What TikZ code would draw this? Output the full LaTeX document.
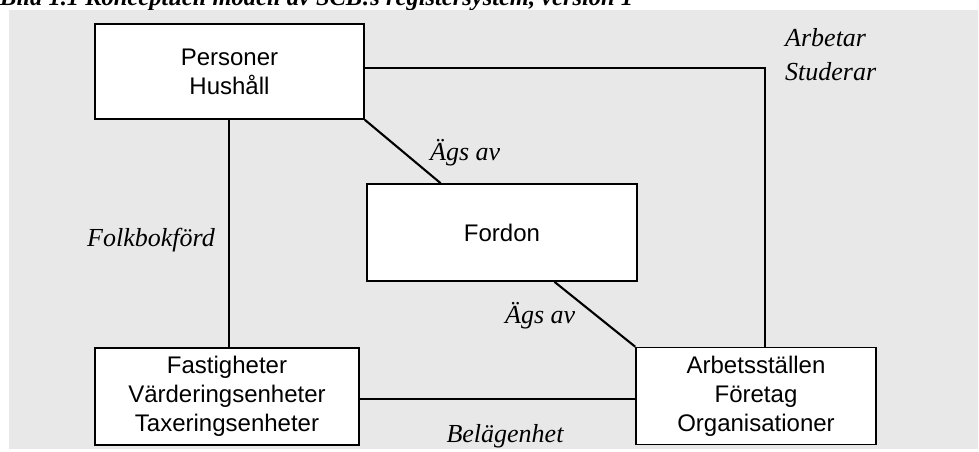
\documentclass[tikz,border=0pt]{standalone}
\usepackage{fontspec}
\setmainfont{Liberation Serif}
\newfontfamily\boxfont{Liberation Sans}
\usetikzlibrary{calc}
\definecolor{panelgray}{RGB}{232,232,232}
\tikzset{
  entity/.style={draw=black, line width=1.6pt, fill=white, align=center,
    font=\boxfont\fontsize{24}{28.8}\selectfont, inner sep=0pt},
  rel/.style={font=\itshape\fontsize{26}{34}\selectfont, inner sep=0pt},
  link/.style={line width=1.3pt},
  strong/.style={line width=2.1pt},
}
\begin{document}
\begin{tikzpicture}[x=1pt, y=-1pt]
  \useasboundingbox (0,0) rectangle (979,451);
  % caption line, cut by the top edge of the page
  \begin{scope}
    \clip (0,0) rectangle (979,451);
    \node[anchor=base west, inner sep=0pt, font=\bfseries\itshape\fontsize{24.5}{28}\selectfont]
      (caption) at (0,5.5) {Bild 1.1 Konceptuell modell av SCB:s registersystem, version 1};
  \end{scope}
  % grey panel behind the model
  \fill[panelgray] (9,10) rectangle (978,449);

  % entities
  \node[entity, minimum width=269pt, minimum height=95pt] (pers) at (229.5,71.5)
    {Personer\\Hushåll};
  \node[entity, minimum width=270pt, minimum height=97pt] (ford) at (502,232.5)
    {Fordon};
  \node[entity, minimum width=264pt, minimum height=97pt] (fast) at (227,396.5)
    {Fastigheter\\Värderingsenheter\\Taxeringsenheter};
  \node[entity, minimum width=240pt, minimum height=97pt] (arb) at (756,396)
    {Arbetsställen\\Företag\\Organisationer};

  % relationships
  \coordinate (corner) at (765,68);
  \draw[link] (pers.east |- corner) -- (corner) -- (corner |- arb.north);
  \draw[link] (229,119) coordinate (pf) -- (pf |- fast.north);
  \draw[strong] (pers.south east) -- ($(ford.north west)!0.274!(ford.north east)$);
  \draw[strong] ($(ford.south west)!0.693!(ford.south east)$) -- (arb.north west);
  \coordinate (loc) at (0,399);
  \draw[strong] (fast.east |- loc) -- (arb.west |- loc);

  % relationship labels
  \node[rel, anchor=base west] (work1) at (785,46) {Arbetar};
  \node[rel, anchor=base west] (work2) at (785,80) {Studerar};
  \node[rel, anchor=base west] (own1) at (430,160) {Ägs av};
  \node[rel, anchor=base west] (own2) at (505,323) {Ägs av};
  \node[rel, anchor=base] (folk) at (151,246) {Folkbokförd};
  \node[rel, anchor=base] (bel) at (505,442) {Belägenhet};
\end{tikzpicture}
\end{document}
